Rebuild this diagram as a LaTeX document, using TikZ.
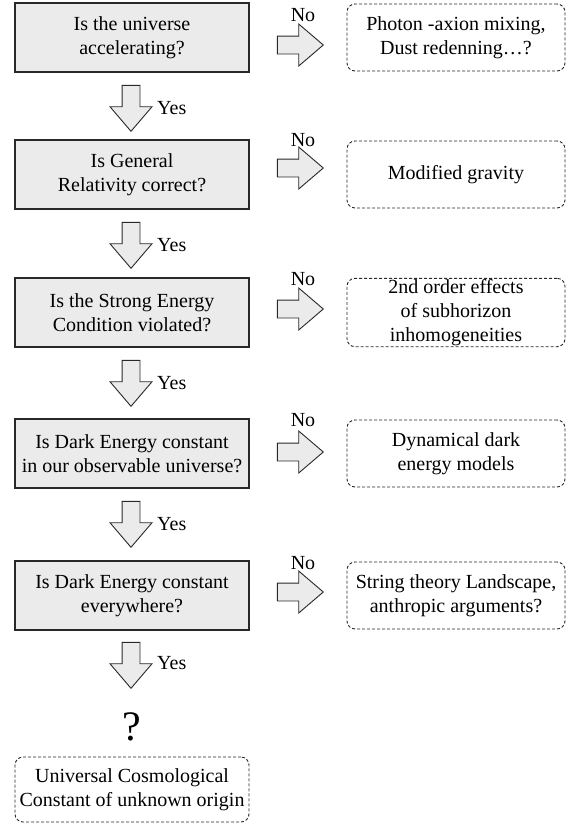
\documentclass[tikz,border=0pt]{standalone}
\usepackage{fontspec}
\setmainfont{Liberation Serif}
\usetikzlibrary{shapes.arrows,positioning}
\definecolor{qfill}{RGB}{235,235,235}
\definecolor{edge}{RGB}{40,40,40}

\begin{document}
\begin{tikzpicture}[x=1pt, y=1pt,
  qbox/.style={rectangle, draw=edge, line width=1.2pt, fill=qfill,
               minimum width=234pt, minimum height=69pt, align=center,
               inner sep=1pt, font=\fontsize{20}{24}\selectfont},
  abox/.style={rectangle, draw=edge, line width=0.9pt, rounded corners=8pt,
               dash pattern=on 3pt off 2pt, minimum width=218pt,
               minimum height=67pt, align=center, inner sep=1pt,
               font=\fontsize{20}{24}\selectfont},
  blk/.style={single arrow, draw=edge, line width=0.9pt, fill=qfill,
              single arrow tip angle=81, single arrow head extend=12pt,
              minimum height=46pt, inner sep=0pt, anchor=tip},
  yesarr/.style={blk, shape border rotate=270, inner xsep=8.5pt},
  noarr/.style={blk, inner ysep=8.5pt},
  lbl/.style={inner sep=0pt, font=\fontsize{20}{24}\selectfont},
]
\useasboundingbox (0,0) rectangle (572,-823);

% Questions
\node[qbox] (q1) at (132, -37.5) {Is the universe\\accelerating?};
\node[qbox] (q2) at (132,-174.5) {Is General\\Relativity correct?};
\node[qbox] (q3) at (132,-312.5) {Is the Strong Energy\\Condition violated?};
\node[qbox] (q4) at (132,-453.5) {Is Dark Energy constant\\in our observable universe?};
\node[qbox] (q5) at (132,-595.5) {Is Dark Energy constant\\everywhere?};

% Alternatives
\node[abox] (alt1) at (456, -37.5) {Photon -axion mixing,\\Dust redenning…?};
\node[abox] (alt2) at (456,-174.5) {Modified gravity};
\node[abox] (alt3) at (456,-312.5) {2nd order effects\\of subhorizon\\inhomogeneities};
\node[abox] (alt4) at (456,-453.5) {Dynamical dark\\energy models};
\node[abox] (alt5) at (456,-595.5) {String theory Landscape,\\anthropic arguments?};

% Yes arrows (placed by their tips)
\node[yesarr] (yes1) at (131,-132) {};
\node[yesarr] (yes2) at (131,-269) {};
\node[yesarr] (yes3) at (131,-407) {};
\node[yesarr] (yes4) at (131,-548) {};
\node[yesarr] (yes5) at (131,-689) {};
\node[lbl, anchor=west] (ylbl1) at ([shift={(26,24)}]yes1.tip) {Yes};
\node[lbl, anchor=west] (ylbl2) at ([shift={(26,24)}]yes2.tip) {Yes};
\node[lbl, anchor=west] (ylbl3) at ([shift={(26,24)}]yes3.tip) {Yes};
\node[lbl, anchor=west] (ylbl4) at ([shift={(26,24)}]yes4.tip) {Yes};
\node[lbl, anchor=west] (ylbl5) at ([shift={(26,26)}]yes5.tip) {Yes};

% No arrows
\node[noarr] (no1) at (324, -45) {};
\node[noarr] (no2) at (324,-168) {};
\node[noarr] (no3) at (324,-309) {};
\node[noarr] (no4) at (324,-452) {};
\node[noarr] (no5) at (324,-592) {};
\node[lbl] (nlbl1) at ([shift={(-21,30)}]no1.tip) {No};
\node[lbl] (nlbl2) at ([shift={(-21,28)}]no2.tip) {No};
\node[lbl] (nlbl3) at ([shift={(-21,30)}]no3.tip) {No};
\node[lbl] (nlbl4) at ([shift={(-21,32)}]no4.tip) {No};
\node[lbl] (nlbl5) at ([shift={(-21,29)}]no5.tip) {No};

% Final answer
\node[font=\fontsize{42}{48}\selectfont] (qm) at (132,-727) {?};
\node[abox, minimum width=234pt, minimum height=65pt] (lambda) at (132,-789.5)
  {Universal Cosmological\\Constant of unknown origin};

\end{tikzpicture}
\end{document}
